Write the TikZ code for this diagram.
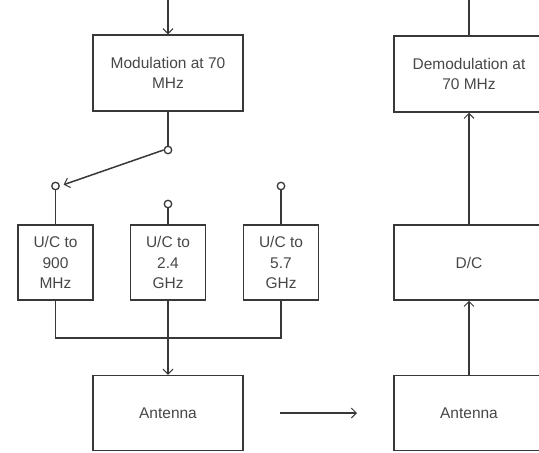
\documentclass[tikz,border=0pt]{standalone}
\usepackage{fontspec}
\setmainfont{Liberation Sans}
\usetikzlibrary{arrows.meta}
\begin{document}
\begin{tikzpicture}[x=1pt,y=-1pt,
  line width=1.5pt,
  every node/.style={font=\fontsize{15.5}{20.5}\selectfont, text=black!72},
  blk/.style={draw=black!78, minimum width=150pt, minimum height=76pt, align=center, inner sep=0pt},
  uc/.style={draw=black!78, minimum width=75pt, minimum height=75pt, align=center, inner sep=0pt},
  term/.style={draw=black!78, circle, fill=white, minimum size=7.5pt, inner sep=0pt, line width=1.3pt},
  wire/.style={draw=black!78},
  arr/.style={draw=black!78, -{Straight Barb[length=5pt,width=10pt,line width=1pt]}}]
\clip (0,0) rectangle (539,453);
% transmitter chain
\coordinate (txin) at (168,0);
\node[blk] (mod) at (168,73) {Modulation at 70\\MHz};
\node[term] (sw) at (168,150) {};
\node[term] (t1) at (55.5,186) {};
\node[term] (t2) at (168,204) {};
\node[term] (t3) at (281,186) {};
\node[uc] (uc1) at (55.5,262.5) {U/C to\\900\\MHz};
\node[uc] (uc2) at (168,262.5) {U/C to\\2.4\\GHz};
\node[uc] (uc3) at (281,262.5) {U/C to\\5.7\\GHz};
\node[blk, minimum height=75pt] (anttx) at (168,413) {Antenna};
\coordinate (bus) at (168,338);
% receiver chain
\coordinate (rxin) at (469,0);
\node[blk] (demod) at (469,74) {Demodulation at\\70 MHz};
\node[blk, minimum height=75pt] (dc) at (469,262.5) {D/C};
\node[blk, minimum height=75pt] (antrx) at (469,413) {Antenna};
\coordinate (airA) at (280,413);
\coordinate (airB) at (357,413);

\draw[arr] (txin) -- (mod.north);
\draw[wire] (mod.south) -- (sw.north);
\draw[arr, shorten >=4pt] (sw.west) -- (t1.east);
\draw[wire] (t1.south) -- (uc1.north);
\draw[wire] (t2.south) -- (uc2.north);
\draw[wire] (t3.south) -- (uc3.north);
\draw[wire] (uc1.south) |- (bus) -| (uc3.south);
\draw[arr] (uc2.south) -- (anttx.north);
\draw[arr] (airA) -- (airB);
\draw[wire] (rxin) -- (demod.north);
\draw[arr] (antrx.north) -- (dc.south);
\draw[arr] (dc.north) -- (demod.south);
\end{tikzpicture}
\end{document}
